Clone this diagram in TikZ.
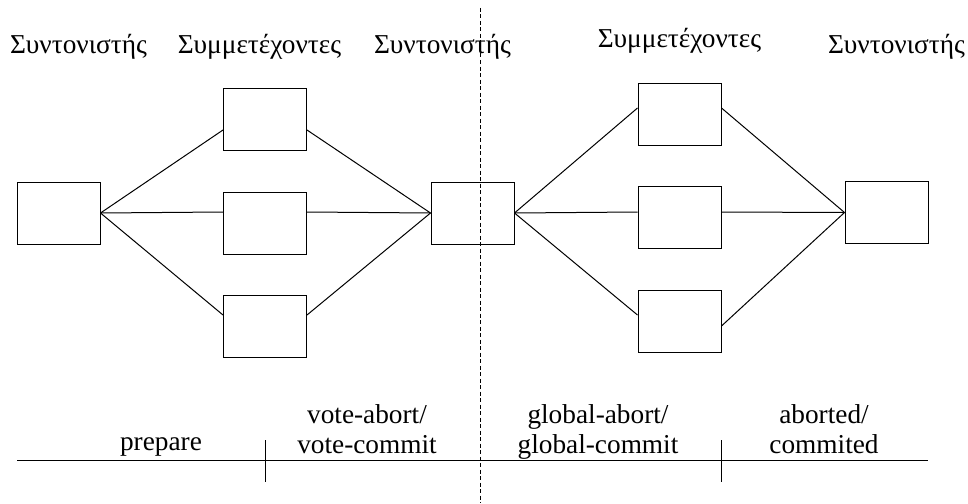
\documentclass[tikz,border=0pt]{standalone}
\usepackage{fontspec}
\setmainfont{Liberation Serif}
\begin{document}
\begin{tikzpicture}[x=1pt,y=-1pt,
  box/.style={draw,line width=1pt,minimum width=83pt,minimum height=62pt,inner sep=0pt},
  lbl/.style={font=\fontsize{27.3}{30}\selectfont,inner sep=0pt,anchor=base},
  phase/.style={font=\fontsize{27.3}{30}\selectfont,inner sep=0pt,align=center,anchor=base},
  conn/.style={line width=1pt}]
\useasboundingbox (0,0) rectangle (968,503);
% boxes
\node[box] (C1) at (58.5,213) {};
\node[box] (P1) at (265,119) {};
\node[box] (P2) at (265,223) {};
\node[box] (P3) at (265,326) {};
\node[box] (C2) at (472.5,213) {};
\node[box] (P4) at (679.5,114) {};
\node[box] (P5) at (679.5,217.5) {};
\node[box] (P6) at (679.5,321) {};
\node[box] (C3) at (886.5,212.5) {};
% connectors
\draw[conn] (C1.east) -- ([yshift=-11pt]P1.west);
\draw[conn] (C1.east) -- ([yshift=11pt]P2.west);
\draw[conn] (C1.east) -- ([yshift=11pt]P3.west);
\draw[conn] ([yshift=-11pt]P1.east) -- (C2.west);
\draw[conn] ([yshift=11pt]P2.east) -- (C2.west);
\draw[conn] ([yshift=11pt]P3.east) -- (C2.west);
\draw[conn] (C2.east) -- ([yshift=6pt]P4.west);
\draw[conn] (C2.east) -- ([yshift=5.5pt]P5.west);
\draw[conn] (C2.east) -- ([yshift=6pt]P6.west);
\draw[conn] ([yshift=6pt]P4.east) -- (C3.west);
\draw[conn] ([yshift=5.5pt]P5.east) -- (C3.west);
\draw[conn] ([yshift=-5pt]P6.east) -- (C3.west);
% titles
\node[lbl] (t1) at (78.5,53) {Συντονιστής};
\node[lbl] (t2) at (259.5,53) {Συμμετέχοντες};
\node[lbl] (t3) at (442.5,53) {Συντονιστής};
\node[lbl] (t4) at (679.5,48) {Συμμετέχοντες};
\node[lbl] (t5) at (896.5,53) {Συντονιστής};
% dashed separator
\coordinate (dtop) at (480,8);
\coordinate (dbot) at (480,503);
\draw[line width=0.8pt,dash pattern=on 4pt off 2.5pt] (dtop) -- (dbot);
% time axis
\coordinate (ax1) at (17,460.7);
\coordinate (ax2) at (928,460.7);
\draw[conn] (ax1) -- (ax2);
\coordinate (k1a) at (265.7,440);
\coordinate (k1b) at (265.7,482);
\coordinate (k2a) at (721,440);
\coordinate (k2b) at (721,482);
\draw[conn] (k1a) -- (k1b);
\draw[conn] (k2a) -- (k2b);
% phase labels
\node[lbl] (ph1) at (161,450) {prepare};
\node[phase] (ph2) at (367,453) {vote-abort/\\vote-commit};
\node[phase] (ph3) at (598,453) {global-abort/\\global-commit};
\node[phase] (ph4) at (824,453) {aborted/\\commited};
\end{tikzpicture}
\end{document}
